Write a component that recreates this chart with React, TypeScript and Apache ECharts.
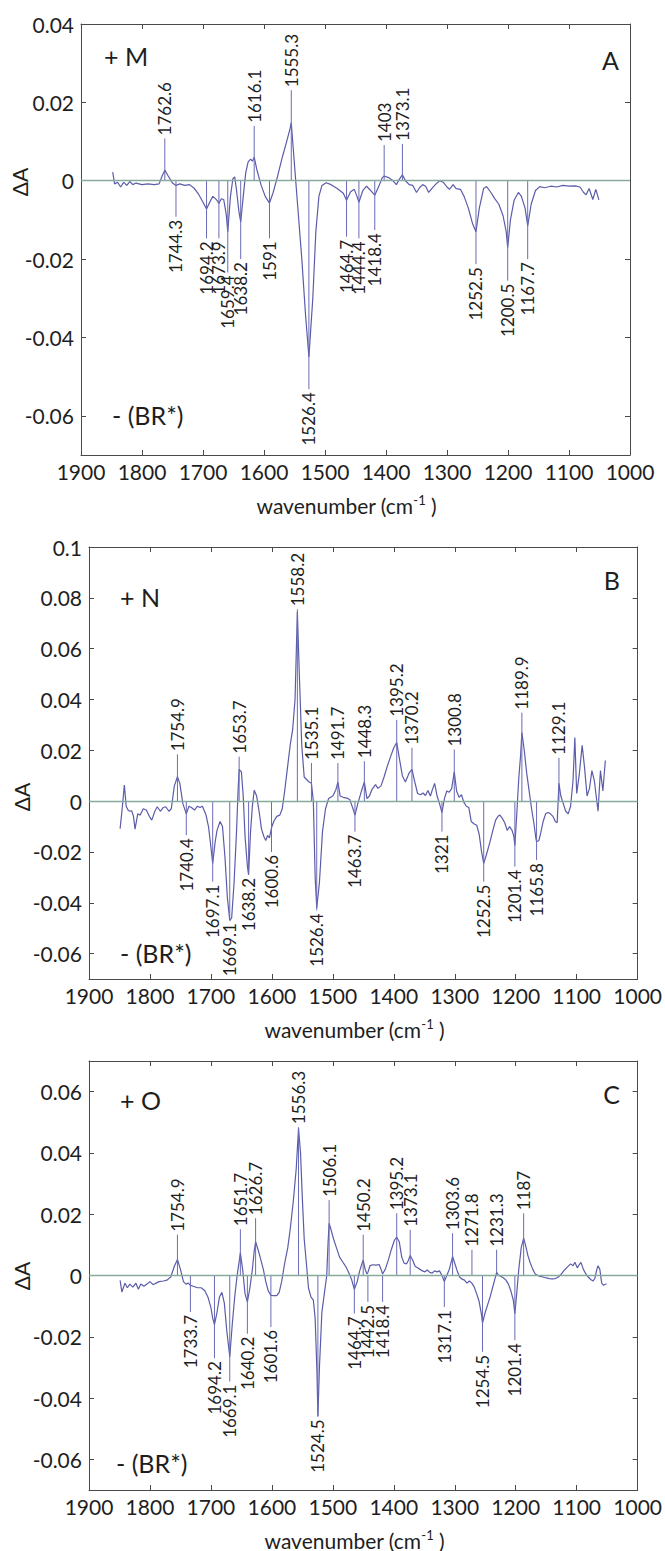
import React, { useEffect, useRef } from "react";
import * as echarts from "echarts";

const FONT = 'Lato, "Open Sans", "DejaVu Sans", sans-serif';
const CURVE = "#5b5ca9";
const STICK = "#6a6bb6";
const ZERO = "#86ab9c";
const AXIS = "#4a4a4a";
const TEXT = "#1e1e1e";

const xTickInterval = 100;

// ---------- Panel A (+M) ----------
const aWave = [1848,1845,1840,1835,1830,1825,1820,1815,1810,1800,1790,1780,1772,1767,1762.6,1757,1750,1744.3,1738,1730,1722,1714,1707,1700,1694.2,1689,1684,1680,1676,1673.9,1670,1666,1662,1659.4,1655,1651,1648,1645,1641,1638.2,1634,1630,1626,1622,1619,1616.1,1612,1605,1598,1591,1585,1578,1570,1562,1557,1555.3,1550,1545,1538,1532,1526.4,1520,1515,1510,1505,1498,1490,1480,1470,1464.7,1458,1452,1448,1444.4,1438,1432,1425,1418.4,1412,1406,1403,1396,1390,1383,1378,1373.1,1368,1362,1356,1350,1345,1340,1335,1330,1325,1318,1312,1306,1300,1296,1290,1285,1278,1272,1265,1258,1252.5,1247,1240,1235,1228,1222,1215,1208,1203,1200.5,1196,1190,1183,1178,1172,1167.7,1162,1155,1148,1140,1130,1120,1110,1100,1090,1082,1076,1072,1067,1061,1056,1051];
const aVal = [0.0022,-0.0008,-0.0004,-0.0016,-0.0004,-0.0012,-0.0002,-0.001,-0.0006,-0.001,-0.0008,-0.001,-0.0008,0.0012,0.0027,0.0012,-0.0006,-0.0012,-0.0008,-0.0012,-0.001,-0.002,-0.0035,-0.0055,-0.0072,-0.0055,-0.004,-0.0045,-0.0052,-0.0058,-0.0046,-0.0048,-0.0085,-0.013,-0.004,0.0005,0.001,-0.0025,-0.008,-0.0105,-0.004,0.002,0.0048,0.0055,0.005,0.006,0.003,-0.001,-0.004,-0.0057,-0.003,0.001,0.006,0.0105,0.0135,0.0148,0.004,-0.006,-0.02,-0.034,-0.045,-0.03,-0.013,-0.004,-0.0012,-0.0005,-0.001,-0.002,-0.0032,-0.005,-0.0028,-0.0022,-0.0038,-0.0055,-0.0025,-0.0014,-0.0025,-0.0037,-0.0015,0.0008,0.0012,0.0008,0.0002,-0.001,0.0004,0.0015,0,-0.001,-0.0012,-0.003,-0.0018,-0.001,-0.0014,-0.003,-0.002,-0.0008,0,-0.0004,-0.0016,-0.0022,-0.001,-0.002,-0.0022,-0.004,-0.007,-0.011,-0.013,-0.007,-0.002,-0.0015,-0.003,-0.0045,-0.006,-0.009,-0.013,-0.017,-0.01,-0.005,-0.003,-0.004,-0.007,-0.0115,-0.006,-0.0025,-0.0015,-0.0018,-0.0014,-0.0016,-0.0012,-0.0014,-0.0013,-0.0016,-0.003,-0.0036,-0.002,-0.0048,-0.0022,-0.0049];
const aPeakWave = [1762.6,1616.1,1555.3,1403,1373.1,1744.3,1694.2,1673.9,1659.4,1638.2,1591,1526.4,1464.7,1444.4,1418.4,1252.5,1200.5,1167.7];
const aPeakTip = [0.0108,0.014,0.0231,0.0091,0.0094,-0.0092,-0.0147,-0.0147,-0.0234,-0.02,-0.0147,-0.0532,-0.0143,-0.0147,-0.0126,-0.0213,-0.0255,-0.02];
const aYTicks = [-0.06,-0.04,-0.02,0,0.02,0.04];

// ---------- Panel B (+N) ----------
const bWave = [1849,1846,1842,1839,1836,1833,1830,1827,1824.5,1820,1816,1811,1806,1801,1797,1792,1788,1783,1778,1774,1769,1765,1760,1754.9,1751,1746,1740.4,1736,1732,1727,1722,1718,1714,1708,1704,1701,1697.1,1693,1690,1685,1681,1677,1673,1669.1,1666,1662,1658,1655.5,1653.7,1650,1647,1644,1640,1638.2,1635,1632,1629,1625,1621,1617,1613,1610,1607,1604,1600.6,1597,1592,1587,1583,1579,1575,1570,1566,1562,1558.2,1555,1551,1547,1543,1539,1535.1,1532,1529,1526.4,1522,1517,1512,1507,1500,1495,1491.7,1488,1483,1477,1472,1467,1463.7,1459,1453,1448.3,1444,1440,1436,1430,1426,1421,1416,1411,1406,1400,1395.2,1391,1386,1381,1375,1370.2,1366,1361,1356,1352,1348,1344,1340,1336,1333,1329,1325,1321,1317,1313,1309,1305,1300.8,1297,1293,1289,1285,1281,1277,1273,1268,1264,1260,1256,1252.5,1248,1243,1238,1233,1229,1226,1222,1218,1214,1210,1206,1203,1201.4,1198,1195,1192,1189.9,1186,1182,1178,1174,1170,1167,1165.8,1162,1159,1155,1151,1147,1143,1139,1135,1132,1129.1,1126,1122,1118,1114,1110,1106,1103,1100,1096,1091,1087,1083,1079,1075,1071,1068,1065,1061,1057,1053];
const bVal = [-0.0108,-0.004,0.0063,-0.002,-0.0035,-0.004,-0.0038,-0.006,-0.011,-0.005,-0.0055,-0.003,-0.0035,-0.006,-0.0075,-0.004,-0.0022,-0.004,-0.0025,-0.0022,-0.004,-0.003,0.006,0.0096,0.007,-0.001,-0.005,-0.002,-0.0025,-0.0035,-0.002,-0.0025,-0.002,-0.0055,-0.01,-0.016,-0.0245,-0.016,-0.0115,-0.008,-0.01,-0.022,-0.038,-0.047,-0.046,-0.032,-0.012,0.004,0.0125,0.0115,0.002,-0.014,-0.026,-0.029,-0.012,-0.002,0.0043,0.002,-0.004,-0.011,-0.014,-0.0155,-0.0135,-0.0145,-0.0105,-0.008,-0.006,-0.0055,-0.003,0.004,0.012,0.022,0.028,0.04,0.0745,0.05,0.022,0.0095,0.0085,0.0075,0.007,0,-0.03,-0.042,-0.032,-0.012,-0.003,0.001,0.002,0.0045,0.0075,0.002,0.0015,0.0012,0.0005,-0.003,-0.0055,-0.001,0.004,0.0075,0.001,0.002,0.0045,0.0065,0.005,0.006,0.0095,0.0135,0.017,0.021,0.023,0.017,0.01,0.0075,0.011,0.0125,0.008,0.003,0.0025,0.0032,0.0022,0.0042,0.002,0.005,0.007,0.002,-0.001,-0.0045,0.001,0.004,0.0035,0.005,0.0115,0.004,0.0015,0.0025,-0.0005,-0.002,-0.0025,-0.008,-0.009,-0.0095,-0.013,-0.02,-0.0245,-0.021,-0.0167,-0.012,-0.0075,-0.006,-0.0055,-0.0068,-0.0085,-0.0115,-0.01,-0.0115,-0.014,-0.0175,-0.004,0.009,0.018,0.027,0.02,0.011,0.004,-0.003,-0.009,-0.0145,-0.016,-0.0155,-0.0125,-0.008,-0.005,-0.0045,-0.005,-0.006,-0.008,-0.0085,0.007,0.002,-0.001,-0.004,-0.005,-0.002,0.008,0.025,0.003,0.01,0.022,0.013,0.002,0.005,0.012,0.008,0.002,-0.004,0.012,0.004,0.016];
const bPeakWave = [1754.9,1653.7,1558.2,1535.1,1491.7,1448.3,1395.2,1370.2,1300.8,1189.9,1129.1,1740.4,1697.1,1669.1,1638.2,1600.6,1526.4,1463.7,1321,1252.5,1201.4,1165.8];
const bPeakTip = [0.0184,0.0175,0.0755,0.015,0.015,0.0157,0.032,0.021,0.0203,0.0348,0.017,-0.0134,-0.0317,-0.0468,-0.029,-0.02,-0.043,-0.012,-0.012,-0.0317,-0.0258,-0.0232];
const bYTicks = [-0.06,-0.04,-0.02,0,0.02,0.04,0.06,0.08,0.1];

// ---------- Panel C (+O) ----------
const cWave = [1849,1846,1841,1837,1833,1828,1823,1819,1815,1810,1805,1800,1795,1790,1785,1778,1772,1766,1760,1754.9,1750,1745,1741,1737,1733.7,1729,1722,1716,1710,1705,1700,1697,1694.2,1690,1686,1682,1678,1674,1669.1,1665,1661,1657,1653,1651.7,1648,1644,1640.2,1636,1632,1629,1626.7,1622,1618,1614,1610,1606,1601.6,1597,1592,1588,1584,1579,1574,1570,1565,1560,1556.3,1553,1550,1547,1543,1540,1536,1532,1529,1526,1524.5,1522,1518,1514,1510,1508,1506.1,1503,1499,1494,1489,1484,1479,1474,1469,1464.7,1460,1456,1452,1450.2,1447,1444,1442.5,1439,1434,1429,1424,1420,1418.4,1414,1409,1404,1399,1395.2,1391,1387,1383,1379,1376,1373.1,1369,1365,1361,1357,1353,1349,1345,1341,1337,1333,1329,1325,1321,1317.1,1313,1309,1305,1303.6,1300,1296,1292,1288,1284,1280,1276,1272,1268,1264,1260,1256,1254.5,1250,1246,1242,1238,1234,1231.3,1228,1224,1220,1216,1212,1208,1204,1201.4,1198,1195,1191,1187,1184,1180,1176,1172,1168,1164,1160,1155,1150,1145,1140,1135,1130,1125,1120,1115,1110,1106,1103,1099,1096,1093,1089,1085,1081,1077,1073,1070,1067,1065,1062,1059,1056,1051];
const cVal = [-0.0016,-0.0054,-0.0025,-0.004,-0.0028,-0.0038,-0.0025,-0.0045,-0.0028,-0.0035,-0.0028,-0.002,-0.003,-0.0025,-0.002,-0.0018,-0.0015,-0.0005,0.003,0.0052,0.002,-0.002,-0.0028,-0.0025,-0.0032,-0.0035,-0.004,-0.004,-0.005,-0.007,-0.0105,-0.014,-0.016,-0.012,-0.007,-0.0055,-0.009,-0.018,-0.0265,-0.016,-0.007,0,0.0055,0.0074,0.002,-0.006,-0.0086,-0.004,0.002,0.008,0.011,0.008,0.005,0.002,-0.002,-0.005,-0.0065,-0.0066,-0.0066,-0.0055,-0.002,0.004,0.009,0.015,0.024,0.035,0.048,0.04,0.025,0.012,0.003,-0.004,-0.007,-0.008,-0.014,-0.032,-0.046,-0.03,-0.012,-0.006,0,0.01,0.017,0.015,0.012,0.009,0.006,0.0045,0.003,0.001,-0.0015,-0.0045,-0.002,0.0015,0.004,0.005,0.002,0.0005,0.001,0.0032,0.0035,0.0034,0.0036,0.0015,0.0005,0.002,0.005,0.0085,0.0115,0.0125,0.011,0.006,0.004,0.0038,0.005,0.0065,0.005,0.003,0.0025,0.002,0.0015,0.0012,0.0018,0.001,0.0008,0.0015,0.0012,0.0015,0,-0.002,0,0.002,0.005,0.0062,0.004,0.0015,-0.0005,-0.0012,-0.0015,-0.0025,-0.0018,-0.0025,-0.0038,-0.006,-0.0085,-0.013,-0.0155,-0.012,-0.0095,-0.007,-0.004,-0.001,0.001,0,-0.0003,-0.0008,-0.0015,-0.0028,-0.005,-0.008,-0.0125,-0.005,0.002,0.009,0.0122,0.01,0.0065,0.004,0.002,0.0005,0,-0.0003,-0.0005,-0.0008,-0.001,-0.0011,-0.001,-0.0005,0.0005,0.0018,0.0028,0.0038,0.0032,0.0043,0.0025,0.0035,0.0043,0.002,0.0005,-0.0005,-0.0013,-0.0018,-0.0008,0.002,0.0032,0.002,-0.0025,-0.0032,-0.0027];
const cPeakWave = [1754.9,1651.7,1626.7,1556.3,1506.1,1450.2,1395.2,1373.1,1303.6,1271.8,1231.3,1187,1733.7,1694.2,1669.1,1640.2,1601.6,1524.5,1464.7,1442.5,1418.4,1317.1,1254.5,1201.4];
const cPeakTip = [0.0133,0.0151,0.0187,0.0484,0.0246,0.0133,0.0203,0.0149,0.0138,0.0084,0.0084,0.0203,-0.0119,-0.027,-0.0346,-0.019,-0.0168,-0.046,-0.0124,-0.0086,-0.0086,-0.0103,-0.0249,-0.0211];
const cYTicks = [-0.06,-0.04,-0.02,0,0.02,0.04,0.06];

const panels = [
  { wave: aWave, val: aVal, pw: aPeakWave, pt: aPeakTip, ticks: aYTicks, yMin: -0.07, yMax: 0.04,
    left: 81, top: 24, width: 549, height: 431, plus: "+ M", letter: "A",
    plusPos: [104, 56], letterPos: [619, 60], brPos: [112, 415], daPos: [19, 182] },
  { wave: bWave, val: bVal, pw: bPeakWave, pt: bPeakTip, ticks: bYTicks, yMin: -0.07, yMax: 0.1,
    left: 89, top: 547, width: 549, height: 432, plus: "+ N", letter: "B",
    plusPos: [120, 597], letterPos: [620, 580], brPos: [120, 953], daPos: [21, 797] },
  { wave: cWave, val: cVal, pw: cPeakWave, pt: cPeakTip, ticks: cYTicks, yMin: -0.07, yMax: 0.07,
    left: 89, top: 1061, width: 549, height: 429, plus: "+ O", letter: "C",
    plusPos: [120, 1100], letterPos: [620, 1094], brPos: [116, 1463], daPos: [21, 1276] },
];

const fmtY = (v: number) => (Math.abs(v) < 1e-9 ? "0" : String(Math.round(v * 100) / 100));
const fmtX = (v: number) => String(Math.round(v));

function buildOption() {
  const grid: any[] = [];
  const xAxis: any[] = [];
  const yAxis: any[] = [];
  const series: any[] = [];
  const graphic: any[] = [];

  panels.forEach((p, i) => {
    grid.push({ left: p.left, top: p.top, width: p.width, height: p.height, show: false });
    const xCommon = {
      type: "value", gridIndex: i, min: 1000, max: 1900, interval: xTickInterval, inverse: true,
      splitLine: { show: false },
      axisLine: { show: true, onZero: false, lineStyle: { color: AXIS, width: 1 } },
      axisTick: { show: true, inside: true, length: 5, lineStyle: { color: AXIS } },
    };
    xAxis.push({ ...xCommon, position: "bottom",
      axisLabel: { show: true, formatter: fmtX, fontSize: 21, fontFamily: FONT, color: TEXT, margin: 6 } });
    xAxis.push({ ...xCommon, position: "top", axisLabel: { show: false } });
    const yCommon = {
      type: "value", gridIndex: i, min: p.yMin, max: p.yMax,
      splitLine: { show: false },
      axisLine: { show: true, onZero: false, lineStyle: { color: AXIS, width: 1 } },
      axisTick: { show: true, inside: true, length: 5, customValues: p.ticks, lineStyle: { color: AXIS } },
    };
    yAxis.push({ ...yCommon, position: "left",
      axisLabel: { show: true, customValues: p.ticks, formatter: fmtY, fontSize: 21, fontFamily: FONT, color: TEXT, margin: 7 } });
    yAxis.push({ ...yCommon, position: "right", axisLabel: { show: false } });

    series.push({
      type: "line", xAxisIndex: 2 * i, yAxisIndex: 2 * i,
      data: p.wave.map((w, k) => [w, p.val[k]]),
      showSymbol: false, symbol: "none",
      lineStyle: { color: CURVE, width: 1.2 }, itemStyle: { color: CURVE },
      markLine: { silent: true, symbol: "none", label: { show: false },
        lineStyle: { color: ZERO, width: 1.3, type: "solid" }, data: [{ yAxis: 0 }] },
      z: 3,
    });
    const labels = p.pw;
    series.push({
      type: "custom", xAxisIndex: 2 * i, yAxisIndex: 2 * i, clip: false, z: 4,
      data: p.pw.map((w, k) => [w, p.pt[k]]),
      renderItem: (params: any, api: any) => {
        const w = api.value(0);
        const tip = api.value(1);
        const p0 = api.coord([w, 0]);
        const p1 = api.coord([w, tip]);
        const up = tip > 0;
        return {
          type: "group",
          children: [
            { type: "line", shape: { x1: p0[0], y1: p0[1], x2: p1[0], y2: p1[1] },
              style: { stroke: STICK, lineWidth: 1 } },
            { type: "text", x: p1[0], y: p1[1], rotation: Math.PI / 2,
              style: { text: String(labels[params.dataIndex]), x: up ? 3 : -3, y: 0,
                align: up ? "left" : "right", verticalAlign: "middle",
                fontSize: 17, fontFamily: FONT, fill: TEXT } },
          ],
        };
      },
    });

    graphic.push({ type: "text", x: p.plusPos[0], y: p.plusPos[1],
      style: { text: p.plus, fontSize: 25, fontFamily: FONT, fill: TEXT, align: "left", verticalAlign: "middle" } });
    graphic.push({ type: "text", x: p.letterPos[0], y: p.letterPos[1],
      style: { text: p.letter, fontSize: 25, fontFamily: FONT, fill: TEXT, align: "right", verticalAlign: "middle" } });
    graphic.push({ type: "text", x: p.brPos[0], y: p.brPos[1],
      style: { text: "- (BR*)", fontSize: 25, fontFamily: FONT, fill: TEXT, align: "left", verticalAlign: "middle" } });
    graphic.push({ type: "text", x: p.daPos[0], y: p.daPos[1], rotation: Math.PI / 2,
      style: { text: "ΔA", fontSize: 21, fontFamily: FONT, fill: TEXT, align: "center", verticalAlign: "middle" } });
    graphic.push({ type: "text", x: p.left + p.width / 2 - 9, y: p.top + p.height + 50,
      style: { text: "wavenumber (cm{sup|-1} )", fontSize: 21, fontFamily: FONT, fill: TEXT,
        align: "center", verticalAlign: "middle",
        rich: { sup: { fontSize: 13, fontFamily: FONT, fill: TEXT, verticalAlign: "top", padding: [0, 0, 10, 0] } } } });
  });

  return { animation: false, backgroundColor: "#ffffff", grid, xAxis, yAxis, series, graphic };
}

export default function App() {
  const ref = useRef<HTMLDivElement>(null);
  useEffect(() => {
    if (!ref.current) return;
    const chart = echarts.init(ref.current, undefined, { renderer: "svg" });
    chart.setOption(buildOption() as any);
    return () => chart.dispose();
  }, []);
  return (
    <div ref={ref} style={{ position: "absolute", left: 0, top: 0, width: 665, height: 1551, background: "#fff" }} />
  );
}
